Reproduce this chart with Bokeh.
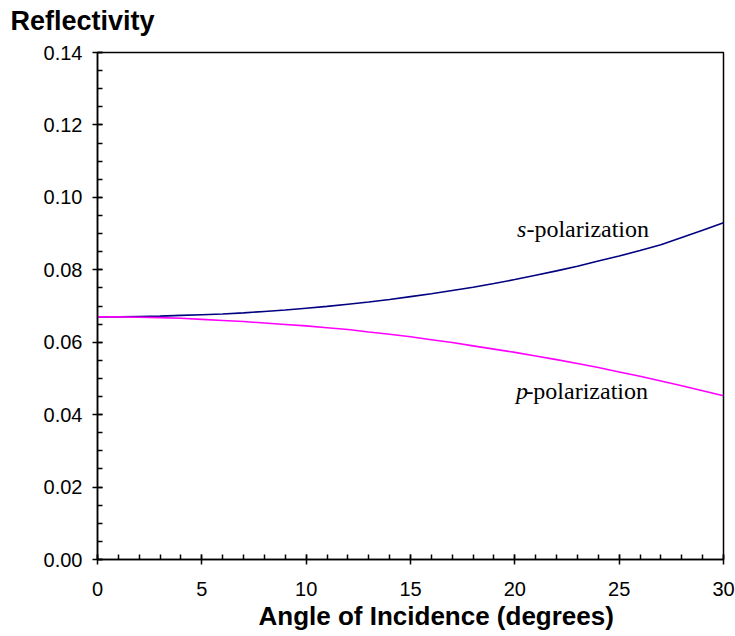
from bokeh.plotting import figure
from bokeh.models import Range1d, FixedTicker, PrintfTickFormatter, Label, Title
from bokeh.embed import file_html
from bokeh.resources import INLINE

angle = list(range(0, 31))
s_pol = [0.0670, 0.0670, 0.0671, 0.0672, 0.0674, 0.0676, 0.0678, 0.0681, 0.0685, 0.0689,
         0.0694, 0.0699, 0.0705, 0.0711, 0.0718, 0.0726, 0.0734, 0.0743, 0.0752, 0.0762,
         0.0773, 0.0785, 0.0797, 0.0810, 0.0824, 0.0838, 0.0853, 0.0869, 0.0889, 0.0909,
         0.0930]
p_pol = [0.0670, 0.0670, 0.0669, 0.0668, 0.0666, 0.0663, 0.0660, 0.0657, 0.0653, 0.0649,
         0.0645, 0.0640, 0.0635, 0.0628, 0.0622, 0.0615, 0.0607, 0.0599, 0.0590, 0.0581,
         0.0572, 0.0562, 0.0552, 0.0541, 0.0530, 0.0518, 0.0506, 0.0493, 0.0480, 0.0466,
         0.0452]
x_ticks = [0, 5, 10, 15, 20, 25, 30]
x_minor = list(range(0, 31))
y_ticks = [0.00, 0.02, 0.04, 0.06, 0.08, 0.10, 0.12, 0.14]
y_minor = [i * 0.005 for i in range(0, 29)]

p = figure(width=735, height=636, output_backend="svg", toolbar_location=None,
           x_range=Range1d(0, 30), y_range=Range1d(0, 0.14),
           title="Reflectivity",
           min_border_left=97, min_border_right=12, min_border_top=52, min_border_bottom=77)
p.background_fill_color = "white"
p.border_fill_color = "white"
p.outline_line_color = "black"
p.outline_line_width = 1.5
p.xgrid.visible = False
p.ygrid.visible = False

p.title.text_font = "Liberation Sans"
p.title.text_font_size = "27px"
p.title.text_font_style = "bold"
p.title.text_color = "black"
p.title.align = "left"
p.title.offset = -87
p.title.standoff = 2

# small spacer between the title and the plot frame
p.add_layout(Title(text=" ", text_font_size="1px", standoff=13), "above")

p.line(angle, s_pol, line_color="#000080", line_width=1.6)
p.line(angle, p_pol, line_color="#FF00FF", line_width=1.6)

for ax in (p.xaxis[0], p.yaxis[0]):
    ax.axis_line_color = "black"
    ax.axis_line_width = 1.5
    ax.major_tick_line_color = "black"
    ax.major_tick_line_width = 1.5
    ax.minor_tick_line_color = "black"
    ax.minor_tick_line_width = 1.5
    ax.major_tick_in = 5
    ax.major_tick_out = 5
    ax.minor_tick_in = 5
    ax.minor_tick_out = 0
    ax.major_label_text_font = "Liberation Sans"
    ax.major_label_text_font_size = "20px"
    ax.major_label_text_color = "black"

p.xaxis.ticker = FixedTicker(ticks=x_ticks, minor_ticks=x_minor)
p.yaxis.ticker = FixedTicker(ticks=y_ticks, minor_ticks=y_minor)
p.yaxis.formatter = PrintfTickFormatter(format="%.2f")
p.xaxis.major_label_standoff = 17
p.yaxis.major_label_standoff = 10

xlab = Title(text="Angle of Incidence (degrees)", text_font="Liberation Sans",
             text_font_size="26px", text_font_style="bold", text_color="black",
             align="left", offset=161, standoff=1)
p.add_layout(xlab, "below")

# curve labels
for (xv, yv, first, rest) in [(20.1, 0.0914, "s", "-polarization"),
                              (20.05, 0.0464, "p", "-polarization")]:
    p.add_layout(Label(x=xv, y=yv, text=first, text_font="Liberation Serif",
                       text_font_size="24px", text_font_style="italic", text_color="black",
                       text_baseline="middle", text_align="left"))
    p.add_layout(Label(x=xv, y=yv, x_offset=9.5, text=rest, text_font="Liberation Serif",
                       text_font_size="24px", text_color="black",
                       text_baseline="middle", text_align="left"))

open("out.html", "w").write(file_html(p, INLINE))
